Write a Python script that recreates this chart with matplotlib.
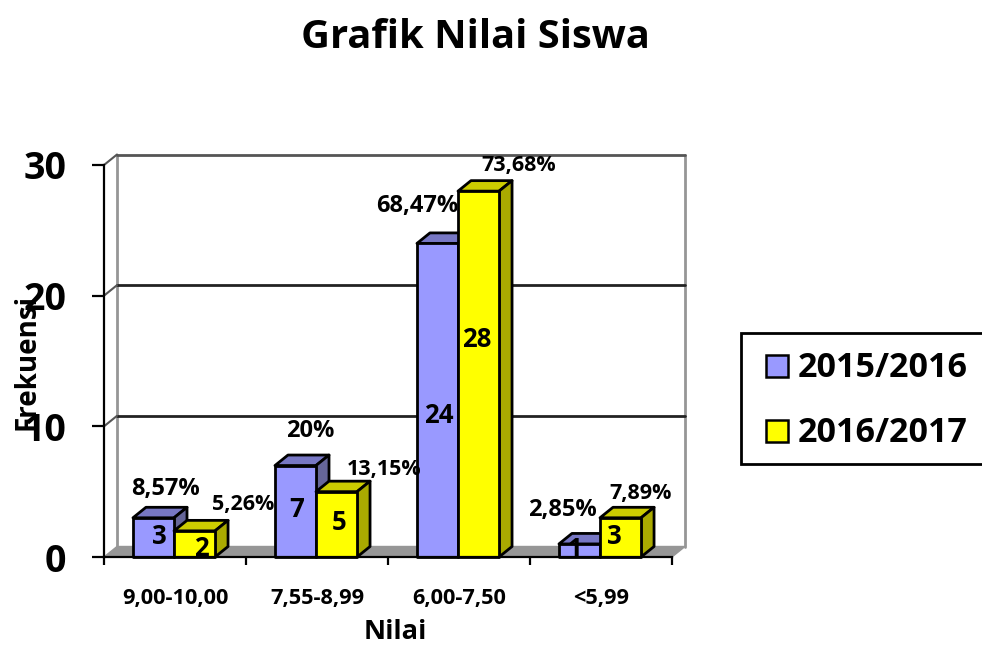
import matplotlib
matplotlib.use('Agg')
import matplotlib.pyplot as plt
from matplotlib.patches import Polygon, Rectangle

W, H = 982, 646

plt.rcParams['font.family'] = ['Open Sans', 'DejaVu Sans']
plt.rcParams['font.weight'] = 'bold'

# data
categories = ['9,00-10,00', '7,55-8,99', '6,00-7,50', '<5,99']
series_names = ['2015/2016', '2016/2017']
values_2015 = [3, 7, 24, 1]
values_2016 = [2, 5, 28, 3]
pct_2015 = ['8,57%', '20%', '68,47%', '2,85%']
pct_2016 = ['5,26%', '13,15%', '73,68%', '7,89%']
y_ticks = [0, 10, 20, 30]

# label offsets from the bar's front top centre, in pixels
val_off_2015 = [(5.5, -19), (1.5, -43.5), (1.5, -172), (-4.5, -6)]
val_off_2016 = [(6.5, -18), (2.5, -30.5), (-1.5, -148), (-6.5, -19)]
pct_off_2015 = [(12.5, 29), (14.5, 34.5), (-20.5, 37), (-17.5, 34)]
pct_off_2016 = [(48.5, 26), (47.5, 22.6), (40.5, 26), (20.5, 24)]

PURPLE = ('#9999FF', '#7777C4', '#666699')
YELLOW = ('#FFFF00', '#CCCC00', '#AAAA00')
WALL = '#969696'

# depth of the fake 3d, data units
DX = 13 / 142
DY = 10.5 / 13.07
BAR_W = 0.289
GAP = 0.204


def px(x, y):
    return x / W, 1 - y / H


fig = plt.figure(figsize=(W / 100, H / 100), dpi=100)
ax = fig.add_axes([104 / W, (H - 557) / H, 568 / W, 392 / H])
ax.set_xlim(0, 4)
ax.set_ylim(0, 30)


def poly(points, color, edge='black', lw=2, z=3):
    ax.add_patch(Polygon(points, closed=True, facecolor=color, edgecolor=edge,
                         linewidth=lw, joinstyle='round', clip_on=False, zorder=z))


def bar3d(x, v, colors):
    x2 = x + BAR_W
    poly([(x, v), (x + DX, v + DY), (x2 + DX, v + DY), (x2, v)], colors[1])
    poly([(x2, 0), (x2 + DX, DY), (x2 + DX, v + DY), (x2, v)], colors[2])
    poly([(x, 0), (x2, 0), (x2, v), (x, v)], colors[0])


# floor and walls
poly([(0, 0), (DX, DY), (4 + DX, DY), (4, 0)], WALL, edge=WALL, lw=1, z=1)
wall_kw = dict(clip_on=False, zorder=1, solid_capstyle='round')
ax.plot([DX, DX], [DY, 30 + DY], color=WALL, lw=2, **wall_kw)
ax.plot([4 + DX, 4 + DX], [DY, 30 + DY], color=WALL, lw=2, **wall_kw)
for t in y_ticks[1:]:
    c = '#555555' if t == 30 else '#222222'
    ax.plot([DX, 4 + DX], [t + DY, t + DY], color=c, lw=2, **wall_kw)
    ax.plot([0, DX], [t, t + DY], color='#555555', lw=1.5, **wall_kw)

# bars and their labels
for i in range(len(categories)):
    x1 = i + GAP
    x2 = x1 + BAR_W
    bar3d(x1, values_2015[i], PURPLE)
    bar3d(x2, values_2016[i], YELLOW)
    rows = [(x1, values_2015[i], val_off_2015[i], pct_off_2015[i], pct_2015[i], 17),
            (x2, values_2016[i], val_off_2016[i], pct_off_2016[i], pct_2016[i], 15.5)]
    for x, v, voff, poff, pct, pct_size in rows:
        ax.annotate(str(v), xy=(x + BAR_W / 2, v), xytext=voff, textcoords='offset pixels',
                    ha='center', va='center', fontsize=18.5, zorder=6, annotation_clip=False)
        ax.annotate(pct, xy=(x + BAR_W / 2, v), xytext=poff, textcoords='offset pixels',
                    ha='center', va='center', fontsize=pct_size, zorder=6, annotation_clip=False)

# axes
for s in ['top', 'right']:
    ax.spines[s].set_visible(False)
for s in ['left', 'bottom']:
    ax.spines[s].set_linewidth(1.6)
    ax.spines[s].set_zorder(5)
ax.patch.set_alpha(0)
ax.set_yticks(y_ticks)
ax.set_yticklabels([str(t) for t in y_ticks], fontsize=27)
ax.tick_params(axis='y', direction='out', length=9, width=1.6, pad=18)
ax.set_xticks(range(5))
ax.set_xticklabels([])
ax.tick_params(axis='x', which='major', direction='out', length=6, width=1.6)
ax.set_xticks([i + 0.5 for i in range(4)], minor=True)
ax.set_xticklabels(categories, minor=True, fontsize=15.7)
ax.tick_params(axis='x', which='minor', length=0, pad=22)

# titles
fig.text(*px(475, 38), 'Grafik Nilai Siswa', ha='center', va='center', fontsize=28.7)
fig.text(*px(395, 632), 'Nilai', ha='center', va='center', fontsize=19.5)
fig.text(*px(27, 362), 'Frekuensi', ha='center', va='center', rotation=90, fontsize=20)

# legend box runs off the right edge like the original
fig.add_artist(Rectangle(px(741, 464), 300 / W, 131 / H, transform=fig.transFigure,
                         facecolor='white', edgecolor='black', linewidth=2))
for name, c, y in zip(series_names, [PURPLE[0], YELLOW[0]], [366, 431]):
    fig.add_artist(Rectangle(px(766, y + 11), 22 / W, 22 / H, transform=fig.transFigure,
                             facecolor=c, edgecolor='black', linewidth=1.8))
    fig.text(*px(798, y + 2), name, ha='left', va='center', fontsize=24.5)

fig.savefig('out.png', dpi=100)
